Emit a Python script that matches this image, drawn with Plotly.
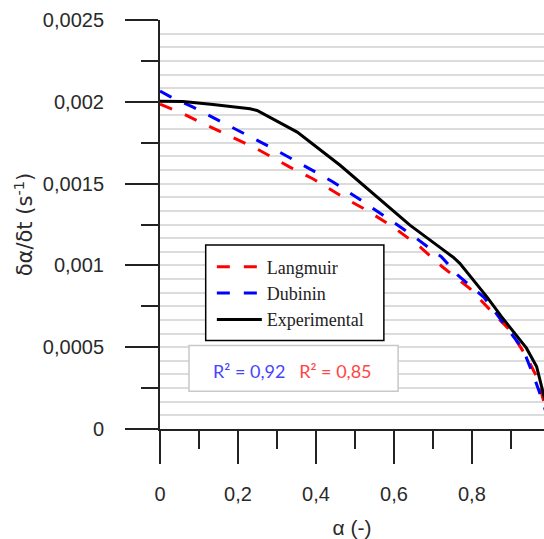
import plotly.graph_objects as go

# Conversion (alpha) and measured / fitted rates (d alpha / dt, s^-1)
alpha_exp = [0.0, 0.059, 0.136, 0.231, 0.249, 0.352, 0.462, 0.538, 0.641, 0.718,
             0.752, 0.769, 0.803, 0.838, 0.876, 0.897, 0.940, 0.966, 0.983, 1.0]
rate_exp = [0.002004, 0.002002, 0.001984, 0.001957, 0.001947, 0.001815, 0.001612,
            0.001459, 0.001246, 0.001110, 0.001050, 0.001013, 0.000912, 0.000809,
            0.000687, 0.000626, 0.000494, 0.000382, 0.000220, 0.000080]

alpha_lang = [0.0, 0.051, 0.094, 0.196, 0.248, 0.333, 0.392, 0.469, 0.530, 0.598,
              0.667, 0.725, 0.795, 0.846, 0.897, 0.940, 0.970, 0.983, 1.0]
rate_lang = [0.001985, 0.001937, 0.001886, 0.001774, 0.001713, 0.001601, 0.001530,
             0.001418, 0.001337, 0.001235, 0.001113, 0.000990, 0.000858, 0.000730,
             0.000605, 0.000443, 0.000301, 0.000179, 0.000030]

alpha_dub = [0.0, 0.026, 0.085, 0.158, 0.231, 0.299, 0.376, 0.444, 0.513, 0.581,
             0.641, 0.692, 0.722, 0.764, 0.831, 0.877, 0.932, 0.962, 0.983, 1.0]
rate_dub = [0.002065, 0.002032, 0.001967, 0.001876, 0.001790, 0.001703, 0.001601,
            0.001510, 0.001403, 0.001290, 0.001195, 0.001104, 0.001052, 0.000940,
            0.000805, 0.000660, 0.000484, 0.000301, 0.000159, 0.000020]

r2_dubinin = "0,92"
r2_langmuir = "0,85"

tick_font = dict(family="Liberation Sans, Arial, sans-serif", size=20, color="#2a2a2a")

fig = go.Figure()
fig.add_trace(go.Scatter(x=alpha_lang, y=rate_lang, mode="lines", name="Langmuir",
                         line=dict(color="#ff0000", width=3, dash="13px,14px")))
fig.add_trace(go.Scatter(x=alpha_dub, y=rate_dub, mode="lines", name="Dubinin",
                         line=dict(color="#0000ff", width=3, dash="13px,14px")))
fig.add_trace(go.Scatter(x=alpha_exp, y=rate_exp, mode="lines", name="Experimental",
                         line=dict(color="#000000", width=3)))
# carrier for the fine horizontal grid axis
fig.add_trace(go.Scatter(x=[None], y=[None], yaxis="y2", showlegend=False,
                         hoverinfo="skip"))

fig.update_layout(
    width=544, height=539,
    margin=dict(l=160, r=0, t=20, b=109.7),
    paper_bgcolor="white", plot_bgcolor="white",
    separators=", ",
    showlegend=True,
    legend=dict(x=0.135, y=0.4415, xanchor="left", yanchor="top",
                bgcolor="rgba(0,0,0,0)", borderwidth=0, itemwidth=45,
                font=dict(family="Liberation Serif, Times New Roman, serif",
                          size=18, color="#222222")),
    xaxis=dict(range=[0, 0.985], showgrid=False, zeroline=False,
               showline=True, linecolor="#222222", linewidth=2,
               ticks="outside", ticklen=33, tickwidth=2, tickcolor="#222222",
               tick0=0, dtick=0.2, tickformat="~g",
               ticklabelstandoff=13, tickfont=tick_font,
               minor=dict(ticks="outside", ticklen=18, tickwidth=2,
                          tickcolor="#222222", dtick=0.1, showgrid=False),
               title=dict(text="α (-)", standoff=16,
                          font=dict(family="Liberation Sans, Arial, sans-serif",
                                    size=21, color="#2a2a2a"))),
    yaxis=dict(range=[0, 0.0025], showgrid=False, zeroline=False,
               showline=True, linecolor="#222222", linewidth=2,
               ticks="outside", ticklen=33, tickwidth=2, tickcolor="#222222",
               tick0=0, dtick=0.0005, tickformat="~g",
               ticklabelstandoff=17, tickfont=tick_font,
               minor=dict(ticks="outside", ticklen=17, tickwidth=2,
                          tickcolor="#222222", dtick=0.00025, showgrid=False),
               title=dict(text="δα/δt (s<sup>-1</sup>)", standoff=4,
                          font=dict(family="DejaVu Sans, Verdana, sans-serif",
                                    size=21, color="#2a2a2a"))),
    yaxis2=dict(range=[0, 0.0025], overlaying="y", showgrid=True,
                gridcolor="#dcdcdc", gridwidth=2, tick0=0, dtick=0.0005 / 6,
                showticklabels=False, ticks="", zeroline=False, showline=False),
    shapes=[
        # legend frame
        dict(type="rect", xref="paper", yref="paper", x0=0.119, x1=0.583,
             y0=0.2165, y1=0.450, line=dict(color="#000000", width=1.5),
             fillcolor="white", layer="above"),
        # R² frame
        dict(type="rect", xref="paper", yref="paper", x0=0.0755, x1=0.620,
             y0=0.092, y1=0.204, line=dict(color="#c8c8c8", width=1.5),
             fillcolor="white", layer="above"),
    ],
    annotations=[
        dict(xref="paper", yref="paper", x=0.345, y=0.141, showarrow=False,
             xanchor="center", yanchor="middle",
             font=dict(family="Lato, Carlito, sans-serif", size=18),
             text=(f'<span style="color:#4545ff">R² = {r2_dubinin}</span>'
                   f'&nbsp;&nbsp;&nbsp;'
                   f'<span style="color:#ff4545">R² = {r2_langmuir}</span>')),
    ],
)

fig.write_html("out.html")
